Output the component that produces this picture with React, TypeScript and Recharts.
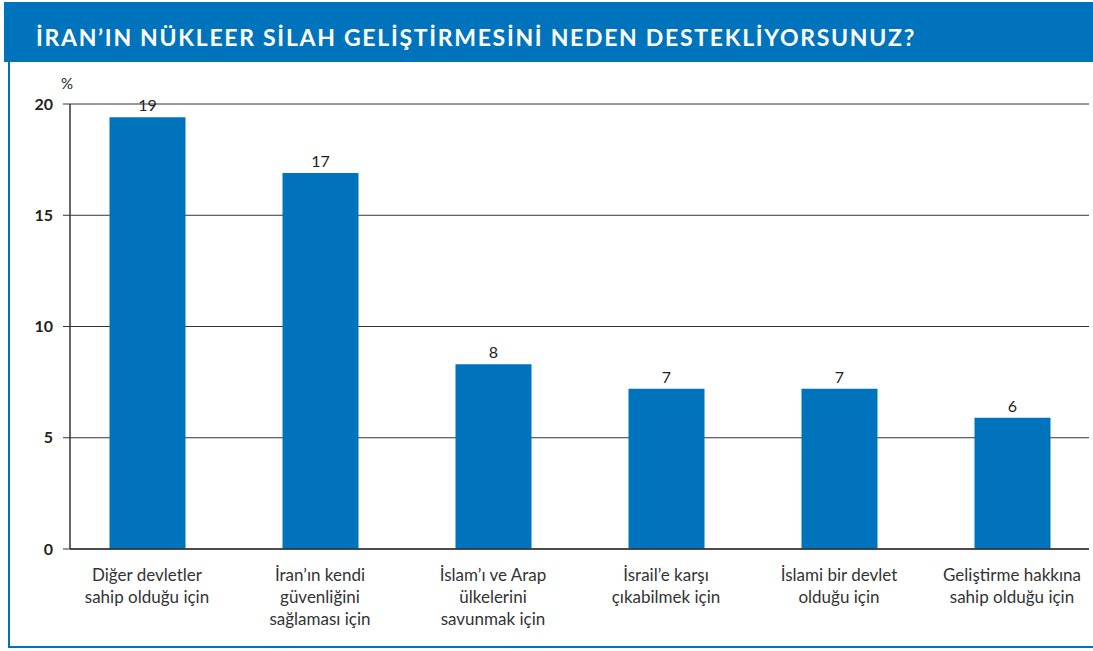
import { BarChart, Bar, XAxis, YAxis, CartesianGrid, LabelList } from 'recharts';

const categories = [
  'Diğer devletler\nsahip olduğu için',
  'İran’ın kendi\ngüvenliğini\nsağlaması için',
  'İslam’ı ve Arap\nülkelerini\nsavunmak için',
  'İsrail’e karşı\nçıkabilmek için',
  'İslami bir devlet\nolduğu için',
  'Geliştirme hakkına\nsahip olduğu için',
];
const values = [19.4, 16.9, 8.3, 7.2, 7.2, 5.9];
const valueLabels = ['19', '17', '8', '7', '7', '6'];
const yTicks = [0, 5, 10, 15, 20];

const data = categories.map((name, i) => ({ name, value: values[i], label: valueLabels[i] }));

const BLUE = '#0073bd';
const FONT = 'Lato, "Open Sans", sans-serif';

function CategoryTick(props: any) {
  const { x, y, payload } = props;
  const lines = String(payload.value).split('\n');
  return (
    <text x={x} y={y} textAnchor="middle" fill="#333" fontSize={17} fontFamily={FONT}>
      {lines.map((l, i) => (
        <tspan key={i} x={x} dy={i === 0 ? 24 : 22}>
          {l}
        </tspan>
      ))}
    </text>
  );
}

export default function App() {
  return (
    <div style={{ position: 'absolute', left: 0, top: 0, width: 1093, height: 651, background: '#fff', overflow: 'hidden' }}>
      <div
        style={{
          position: 'absolute', left: 4, top: 2, width: 1089, height: 60, background: BLUE,
          color: '#fff', fontFamily: FONT, fontWeight: 700, fontSize: 23, letterSpacing: 1.7,
          lineHeight: '70px', paddingLeft: 32, boxSizing: 'border-box', whiteSpace: 'nowrap', overflow: 'hidden',
        }}
      >
        İRAN’IN NÜKLEER SİLAH GELİŞTİRMESİNİ NEDEN DESTEKLİYORSUNUZ?
      </div>
      <div
        style={{
          position: 'absolute', left: 8, top: 62, width: 1100, height: 586,
          borderLeft: `2px solid ${BLUE}`, borderBottom: `2px solid ${BLUE}`, boxSizing: 'border-box',
        }}
      />
      <div style={{ position: 'absolute', left: 61, top: 74, fontFamily: FONT, fontSize: 15, color: '#222' }}>%</div>
      <div style={{ position: 'absolute', left: 0, top: 0 }}>
        <BarChart width={1093} height={651} data={data} margin={{ top: 104, right: 4, bottom: 0, left: 8 }} barCategoryGap={0}>
          <CartesianGrid vertical={false} stroke="#333" strokeWidth={1} />
          <XAxis
            dataKey="name"
            interval={0}
            axisLine={{ stroke: '#333', strokeWidth: 1.5 }}
            tickLine={false}
            height={102}
            tick={<CategoryTick />}
            padding={{ left: -9.5, right: -9.5 }}
          />
          <YAxis
            width={62}
            domain={[0, 20]}
            ticks={yTicks}
            interval={0}
            axisLine={{ stroke: '#333', strokeWidth: 1.5 }}
            tickLine={{ stroke: '#333' }}
            tickSize={7}
            tickMargin={10}
            tick={{ fill: '#222', fontSize: 16, fontWeight: 700, fontFamily: FONT }}
          />
          <Bar dataKey="value" fill={BLUE} barSize={76} isAnimationActive={false}>
            <LabelList dataKey="label" position="top" offset={6} fill="#222" fontSize={16} fontFamily={FONT} />
          </Bar>
        </BarChart>
      </div>
    </div>
  );
}
